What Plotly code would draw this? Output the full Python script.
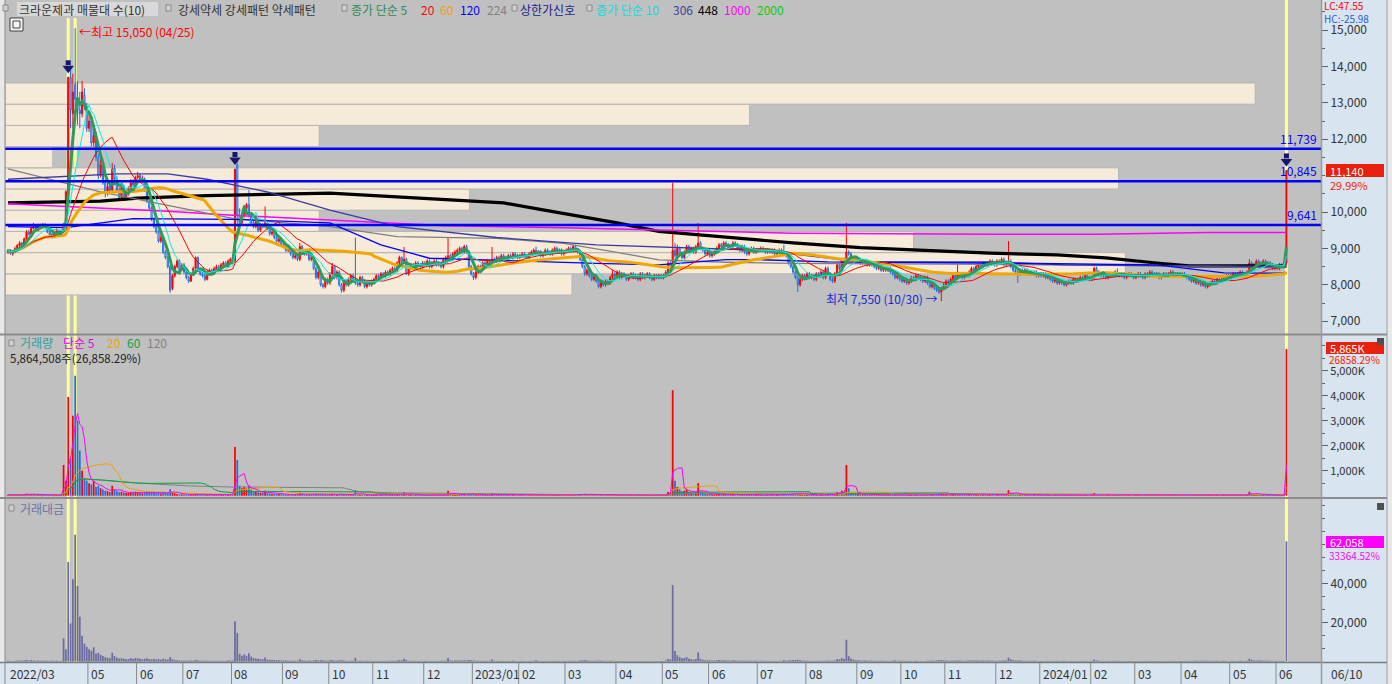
import numpy as np
import pandas as pd
import plotly.graph_objects as go

# ======================= DATA =======================
MONTH_LABELS = ["2022/03", "", "05", "06", "07", "08", "09", "10", "11", "12",
                "2023/01", "02", "03", "04", "05", "06", "07", "08", "09", "10", "11", "12",
                "2024/01", "02", "03", "04", "05", "06"]
MONTH_DAYS = [14, 21, 21, 20, 21, 22, 20, 19, 22, 21,
              20, 20, 22, 20, 20, 21, 21, 22, 19, 19, 22, 19,
              22, 19, 20, 21, 20, 5]

OPEN = [
    8900, 8950, 8850, 8900, 9000, 9080, 9150, 9070, 9250, 9450, 9400, 9550, 9600, 9500,
    9620, 9580, 9650, 9600, 9450, 9400, 9300, 9420, 9500, 9400, 9450, 9650, 10600, 13700, 12700, 13500, 13000, 12800, 12700, 13200, 12900,
    12300, 12500, 11900, 12100, 11500, 11000, 11300, 10800, 10500, 10750, 10600, 11200, 10900, 10600, 10400, 10700, 10350, 10500, 10650, 10800, 10750,
    10950, 11000, 10850, 10900, 10600, 10300, 10100, 9800, 9600, 9450, 9200, 9300, 8900, 8750, 8500, 7900, 8250, 8500, 8650, 8400,
    8550, 8350, 8200, 8100, 8300, 8450, 8750, 8400, 8300, 8250, 8150, 8350, 8400, 8300, 8450, 8500, 8400, 8550, 8600, 8500, 8650,
    8700, 8650, 11300, 9900, 9700, 9900, 10100, 10200, 9900, 9700, 9600, 9750, 9500, 9650, 9600, 9700, 9550, 9400, 9450, 9300, 9200, 9250,
    9100, 9050, 8950, 9000, 8850, 8750, 8800, 8700, 9050, 8950, 8850, 8900, 8700, 8750, 8450, 8200, 8350, 8000, 7950, 8150,
    8050, 8300, 8500, 8200, 8350, 8000, 7850, 8100, 8000, 8150, 8250, 8100, 8050, 8000, 8200, 8100, 7950, 8050, 8000,
    8100, 8150, 8250, 8200, 8300, 8250, 8350, 8300, 8400, 8450, 8400, 8600, 8750, 8650, 8700, 8300, 8450, 8550, 8500, 8600, 8550, 8500,
    8600, 8550, 8650, 8500, 8600, 8650, 8550, 8600, 8500, 8700, 8750, 8800, 8700, 8850, 8900, 8950, 9000, 8900, 9050, 8900, 8500,
    8300, 8200, 8350, 8500, 8450, 8600, 8550, 8650, 8600, 8700, 8650, 8750, 8700, 8800, 8750, 8700, 8800, 8750, 8850, 8800,
    8750, 8800, 8850, 8800, 8750, 8850, 8900, 8950, 8850, 8900, 8800, 8850, 8950, 8900, 8850, 8950, 9000, 8900, 8950, 8850,
    8900, 8950, 9000, 8950, 9050, 8950, 8900, 8700, 8500, 8300, 8400, 8250, 8150, 8250, 8100, 7950, 8050, 8000, 8100, 8050, 8200, 8300,
    8250, 8350, 8200, 8300, 8250, 8150, 8250, 8300, 8200, 8250, 8150, 8300, 8200, 8250, 8300, 8200, 8150, 8250, 8200, 8250,
    8200, 8250, 8350, 8600, 8450, 8950, 8800, 9000, 8850, 8750, 8900, 9050, 8950, 9000, 8900, 9050, 9150, 9000, 8950, 8850,
    8900, 8800, 8850, 8900, 9000, 9100, 9050, 9150, 9100, 9000, 9050, 9150, 9100, 9000, 8950, 9050, 8900, 8850, 8950, 9000, 8900,
    8950, 8950, 9000, 8950, 8900, 8950, 8900, 8950, 8850, 8900, 8950, 8900, 8850, 8800, 8600, 8500, 8350, 8200, 8000, 8150, 8250,
    8200, 8300, 8200, 8250, 8150, 8300, 8250, 8350, 8200, 8450, 8300, 8150, 8100, 8300, 8550, 8450, 8700, 8600, 8900, 8850, 8750, 8700,
    8650, 8700, 8600, 8650, 8600, 8550, 8600, 8550, 8500, 8450, 8500, 8400, 8450, 8400, 8450, 8350, 8300, 8200, 8250,
    8150, 8100, 8150, 8050, 8100, 8200, 8150, 8250, 8200, 8150, 8100, 8200, 8050, 7950, 8000, 7900, 7850, 7800, 7900,
    8000, 8100, 8050, 8150, 8250, 8200, 8300, 8250, 8200, 8300, 8250, 8350, 8450, 8400, 8500, 8550, 8500, 8600, 8550, 8600, 8650, 8600,
    8550, 8650, 8600, 8700, 8550, 8600, 8650, 8500, 8400, 8350, 8300, 8400, 8350, 8400, 8300, 8350, 8300, 8350, 8250,
    8300, 8250, 8300, 8200, 8250, 8150, 8100, 8150, 8050, 8100, 8050, 8000, 8050, 8100, 8050, 8150, 8100, 8150, 8200, 8150, 8250, 8200,
    8150, 8200, 8450, 8350, 8300, 8250, 8300, 8200, 8250, 8300, 8250, 8350, 8300, 8250, 8300, 8200, 8250, 8300, 8250,
    8200, 8250, 8300, 8250, 8200, 8300, 8250, 8350, 8300, 8250, 8300, 8200, 8250, 8300, 8250, 8300, 8350, 8300, 8250, 8300,
    8250, 8300, 8250, 8200, 8150, 8100, 8150, 8050, 8100, 8000, 8050, 7950, 8000, 8050, 8100, 8050, 8150, 8100, 8150, 8200, 8250,
    8200, 8250, 8300, 8250, 8300, 8350, 8300, 8250, 8350, 8600, 8500, 8550, 8650, 8600, 8550, 8650, 8500, 8600, 8550, 8450,
    8500, 8450, 8550, 8500, 8600,
]
HIGH = [
    8980, 8980, 8950, 9050, 9120, 9200, 9180, 9300, 9500, 9500, 9600, 9700, 9650, 9680,
    9680, 9700, 9700, 9620, 9480, 9420, 9450, 9550, 9520, 9520, 9700, 10600, 13700, 13900, 13800, 15050, 13600, 13300, 13600, 13400, 13000,
    12700, 12600, 12300, 12200, 11600, 11500, 11400, 10900, 10800, 10850, 11350, 11300, 11000, 10700, 10800, 10750, 10600, 10700, 10900, 10900, 11000,
    11100, 11050, 11000, 10950, 10650, 10350, 10150, 9850, 9650, 9500, 9400, 9350, 8950, 8800, 8550, 8300, 8550, 8700, 8700, 8600,
    8600, 8400, 8250, 8350, 8500, 8780, 8780, 8450, 8350, 8300, 8400, 8450, 8450, 8500, 8550, 8550, 8600, 8650, 8650, 8700, 8750,
    8750, 11180, 11450, 10100, 10000, 10200, 10250, 10600, 9950, 9750, 9800, 9800, 9700, 9700, 10150, 9750, 9600, 9500, 9500, 9350, 9300, 9300,
    9150, 9100, 9050, 9050, 8900, 8850, 8850, 9150, 9100, 8980, 8950, 8950, 8800, 8800, 8500, 8400, 8400, 8050, 8200, 8200,
    8350, 8600, 8550, 8400, 8400, 8050, 8150, 8150, 8200, 8300, 8300, 9300, 8100, 8250, 8250, 8150, 8100, 8100, 8150,
    8200, 8300, 8300, 8350, 8350, 8400, 8400, 8450, 8500, 8500, 8650, 8800, 8780, 9040, 8750, 8500, 8600, 8600, 8650, 8650, 8600, 8650,
    8650, 8700, 8700, 8650, 8700, 8700, 8650, 8650, 8750, 8800, 9300, 8850, 8900, 8950, 9000, 9050, 9050, 9100, 9100, 8950, 8550,
    8350, 8400, 8550, 8550, 8650, 8650, 8700, 8700, 9040, 8750, 8800, 8800, 8850, 8850, 8800, 8850, 8850, 8900, 8900, 8850,
    8850, 8900, 8900, 8850, 8900, 8950, 9000, 9050, 8950, 8950, 8900, 9000, 9000, 8950, 9000, 9050, 9050, 9000, 9000, 8950,
    9000, 9050, 9050, 9100, 9100, 9000, 8950, 8750, 8550, 8450, 8450, 8300, 8300, 8300, 8150, 8100, 8100, 8150, 8150, 8250, 8400, 8350,
    8400, 8400, 8350, 8350, 8300, 8300, 8350, 8350, 8300, 8300, 8350, 8350, 8300, 8350, 8350, 8250, 8300, 8300, 8300, 8300,
    8300, 8400, 8650, 8650, 10800, 9150, 9100, 9050, 8900, 8950, 9100, 9100, 9050, 9050, 9100, 9700, 9200, 9050, 9000, 8950,
    8950, 8900, 8950, 9050, 9150, 9150, 9200, 9200, 9150, 9100, 9200, 9200, 9150, 9050, 9100, 9100, 8950, 9000, 9050, 9050, 9000,
    9000, 9050, 9050, 9000, 9000, 9000, 9000, 9000, 8950, 9000, 9000, 9100, 8900, 8850, 8650, 8550, 8400, 8250, 8200, 8300, 8300,
    8350, 8350, 8300, 8300, 8350, 8350, 8400, 8400, 8500, 8500, 8350, 8200, 8350, 8600, 8600, 8750, 8750, 9700, 8950, 8900, 8800, 8750,
    8750, 8750, 8700, 8700, 8650, 8650, 8650, 8600, 8550, 8550, 8550, 8500, 8500, 8500, 8500, 8400, 8350, 8300, 8300,
    8200, 8200, 8200, 8150, 8250, 8250, 8300, 8300, 8250, 8200, 8250, 8250, 8100, 8050, 8050, 7950, 7900, 7950, 8050,
    8150, 8150, 8200, 8300, 8300, 8560, 8350, 8300, 8350, 8350, 8400, 8500, 8500, 8550, 8600, 8600, 8650, 8650, 8650, 8700, 8700, 8650,
    8700, 8700, 8750, 8750, 8650, 9200, 8700, 8550, 8450, 8400, 8450, 8450, 8450, 8450, 8400, 8400, 8400, 8400, 8350,
    8350, 8350, 8350, 8300, 8300, 8200, 8200, 8200, 8150, 8150, 8100, 8100, 8150, 8150, 8200, 8200, 8200, 8250, 8250, 8300, 8300, 8250,
    8250, 8500, 8500, 8400, 8350, 8350, 8350, 8300, 8350, 8350, 8400, 8450, 8350, 8350, 8350, 8300, 8350, 8350, 8300,
    8300, 8350, 8350, 8300, 8350, 8350, 8400, 8400, 8350, 8350, 8350, 8300, 8350, 8350, 8350, 8400, 8400, 8350, 8350, 8350,
    8350, 8350, 8300, 8250, 8200, 8200, 8200, 8150, 8150, 8100, 8100, 8050, 8100, 8150, 8150, 8200, 8200, 8200, 8250, 8300, 8300,
    8300, 8350, 8350, 8350, 8400, 8400, 8350, 8400, 8700, 8650, 8600, 8700, 8700, 8650, 8700, 8700, 8650, 8650, 8600, 8550,
    8550, 8600, 8600, 8650, 11140,
]
LOW = [
    8850, 8820, 8800, 8870, 8950, 9040, 9030, 9050, 9220, 9350, 9380, 9520, 9480, 9470,
    9550, 9550, 9580, 9420, 9350, 9270, 9280, 9400, 9380, 9380, 9420, 9600, 10550, 12300, 12300, 12900, 12400, 12300, 12600, 12800, 12200,
    12200, 11800, 11800, 11400, 10900, 10950, 10750, 10400, 10450, 10550, 10550, 10850, 10550, 10350, 10350, 10300, 10300, 10450, 10600, 10700, 10700,
    10900, 10800, 10800, 10550, 10250, 10050, 9750, 9550, 9400, 9150, 9150, 8850, 8700, 8450, 7780, 7850, 8200, 8450, 8350, 8380,
    8300, 8150, 8050, 8080, 8250, 8400, 8350, 8250, 8200, 8100, 8120, 8320, 8280, 8280, 8420, 8380, 8380, 8520, 8480, 8480, 8620,
    8580, 8600, 9600, 9600, 9650, 9850, 10050, 9850, 9650, 9550, 9550, 9450, 9450, 9550, 9550, 9500, 9350, 9350, 9250, 9150, 9150, 9050,
    9000, 8900, 8900, 8800, 8700, 8700, 8650, 8650, 8900, 8800, 8800, 8650, 8650, 8400, 8150, 8150, 7950, 7900, 7900, 8000,
    8000, 8250, 8150, 8150, 7950, 7780, 7800, 7950, 7950, 8100, 8050, 8000, 7950, 7950, 8050, 7900, 7900, 7950, 7950,
    8050, 8100, 8150, 8150, 8200, 8200, 8250, 8250, 8350, 8350, 8350, 8550, 8600, 8600, 8270, 8250, 8400, 8450, 8450, 8500, 8450, 8450,
    8500, 8500, 8450, 8450, 8550, 8500, 8500, 8450, 8450, 8650, 8700, 8650, 8650, 8800, 8850, 8900, 8850, 8850, 8850, 8450, 8250,
    8130, 8150, 8300, 8400, 8400, 8500, 8500, 8550, 8550, 8600, 8600, 8650, 8650, 8700, 8650, 8650, 8700, 8700, 8750, 8700,
    8700, 8750, 8750, 8700, 8700, 8800, 8850, 8800, 8800, 8750, 8750, 8800, 8850, 8800, 8800, 8900, 8850, 8850, 8800, 8800,
    8850, 8900, 8900, 8900, 8900, 8850, 8650, 8450, 8250, 8250, 8200, 8100, 8100, 8050, 7900, 7900, 7950, 7950, 8000, 8000, 8150, 8200,
    8200, 8150, 8150, 8200, 8100, 8100, 8200, 8150, 8150, 8100, 8100, 8150, 8150, 8200, 8150, 8100, 8100, 8150, 8150, 8150,
    8150, 8200, 8300, 8400, 8400, 8750, 8750, 8800, 8700, 8700, 8850, 8900, 8900, 8850, 8850, 9000, 8950, 8900, 8800, 8800,
    8750, 8750, 8800, 8850, 8950, 9000, 9000, 9050, 8950, 8950, 9000, 9050, 8950, 8900, 8900, 8850, 8800, 8800, 8900, 8850, 8850,
    8900, 8900, 8900, 8850, 8850, 8850, 8850, 8800, 8800, 8850, 8850, 8800, 8750, 8550, 8450, 8300, 8150, 7800, 7950, 8100, 8150,
    8150, 8150, 8150, 8100, 8100, 8200, 8200, 8150, 8150, 8250, 8100, 8050, 8050, 8250, 8400, 8400, 8550, 8550, 8800, 8700, 8650, 8600,
    8600, 8550, 8550, 8550, 8500, 8500, 8500, 8450, 8400, 8400, 8350, 8350, 8350, 8350, 8300, 8250, 8150, 8150, 8100,
    8050, 8050, 8000, 8000, 8050, 8100, 8100, 8150, 8100, 8050, 8050, 8000, 7900, 7900, 7850, 7800, 7750, 7550, 7850,
    7950, 8000, 8000, 8100, 8150, 8150, 8200, 8150, 8150, 8200, 8200, 8300, 8350, 8350, 8450, 8450, 8450, 8500, 8500, 8550, 8550, 8500,
    8500, 8550, 8550, 8500, 8500, 8550, 8450, 8350, 8300, 8050, 8250, 8300, 8300, 8250, 8250, 8250, 8250, 8200, 8200,
    8200, 8200, 8150, 8150, 8100, 8050, 8050, 8000, 8000, 8000, 7950, 7950, 8000, 8000, 8000, 8050, 8050, 8100, 8100, 8100, 8150, 8100,
    8100, 8150, 8300, 8250, 8200, 8200, 8150, 8150, 8200, 8200, 8200, 8250, 8200, 8200, 8150, 8150, 8200, 8200, 8150,
    8150, 8200, 8200, 8150, 8150, 8200, 8200, 8250, 8200, 8200, 8150, 8150, 8200, 8200, 8200, 8250, 8250, 8200, 8200, 8200,
    8200, 8200, 8150, 8100, 8050, 8050, 8000, 8000, 7950, 7950, 7900, 7900, 7950, 8000, 8000, 8000, 8050, 8050, 8100, 8150, 8150,
    8150, 8200, 8200, 8200, 8250, 8250, 8200, 8200, 8300, 8450, 8450, 8500, 8550, 8500, 8500, 8450, 8450, 8500, 8400, 8400,
    8400, 8400, 8450, 8450, 8550,
]
CLOSE = [
    8950, 8880, 8900, 8990, 9080, 9150, 9070, 9260, 9450, 9380, 9550, 9600, 9520, 9620,
    9580, 9650, 9600, 9450, 9380, 9300, 9420, 9500, 9400, 9480, 9650, 10560, 13700, 12800, 13300, 13100, 12800, 12700, 13300, 12900, 12300,
    12500, 11900, 12100, 11500, 11000, 11300, 10800, 10500, 10700, 10600, 11200, 10900, 10600, 10400, 10700, 10350, 10500, 10650, 10800, 10750, 10950,
    11000, 10850, 10900, 10600, 10300, 10100, 9800, 9600, 9450, 9200, 9300, 8900, 8750, 8500, 7850, 8250, 8500, 8650, 8400, 8550,
    8350, 8200, 8100, 8300, 8450, 8750, 8400, 8300, 8250, 8150, 8350, 8400, 8300, 8450, 8500, 8400, 8550, 8600, 8500, 8650, 8700,
    8600, 11180, 9900, 9700, 9900, 10100, 10200, 9900, 9700, 9600, 9750, 9500, 9650, 9600, 9700, 9550, 9400, 9450, 9300, 9200, 9250, 9100,
    9050, 8950, 9000, 8850, 8750, 8800, 8700, 9050, 8950, 8850, 8900, 8700, 8750, 8450, 8200, 8350, 8000, 7950, 8150, 8050,
    8300, 8500, 8200, 8350, 8000, 7850, 8100, 8000, 8150, 8250, 8100, 8050, 8000, 8200, 8100, 7950, 8050, 8000, 8100,
    8150, 8250, 8200, 8300, 8250, 8350, 8300, 8400, 8450, 8400, 8600, 8750, 8650, 8700, 8300, 8450, 8550, 8500, 8600, 8550, 8500, 8600,
    8550, 8650, 8500, 8600, 8650, 8550, 8600, 8500, 8700, 8750, 8800, 8700, 8850, 8900, 8950, 9000, 8900, 9050, 8900, 8500, 8300,
    8200, 8350, 8500, 8450, 8600, 8550, 8650, 8600, 8700, 8650, 8750, 8700, 8800, 8750, 8700, 8800, 8750, 8850, 8800, 8750,
    8800, 8850, 8800, 8750, 8850, 8900, 8950, 8850, 8900, 8800, 8850, 8950, 8900, 8850, 8950, 9000, 8900, 8950, 8850, 8900,
    8950, 9000, 8950, 9050, 8950, 8900, 8700, 8500, 8300, 8400, 8250, 8150, 8250, 8100, 7950, 8050, 8000, 8100, 8050, 8200, 8300, 8250,
    8350, 8200, 8300, 8250, 8150, 8250, 8300, 8200, 8250, 8150, 8300, 8200, 8250, 8300, 8200, 8150, 8250, 8200, 8250, 8200,
    8250, 8350, 8600, 8450, 8950, 8800, 9000, 8850, 8750, 8900, 9050, 8950, 9000, 8900, 9050, 9150, 9000, 8950, 8850, 8900,
    8800, 8850, 8900, 9000, 9100, 9050, 9150, 9100, 9000, 9050, 9150, 9100, 9000, 8950, 9050, 8900, 8850, 8950, 9000, 8900, 8950,
    8950, 9000, 8950, 8900, 8950, 8900, 8950, 8850, 8900, 8950, 8900, 8850, 8800, 8600, 8500, 8350, 8200, 8000, 8150, 8250, 8200,
    8300, 8200, 8250, 8150, 8300, 8250, 8350, 8200, 8450, 8300, 8150, 8100, 8300, 8550, 8450, 8700, 8600, 8900, 8850, 8750, 8700, 8650,
    8700, 8600, 8650, 8600, 8550, 8600, 8550, 8500, 8450, 8500, 8400, 8450, 8400, 8450, 8350, 8300, 8200, 8250, 8150,
    8100, 8150, 8050, 8100, 8200, 8150, 8250, 8200, 8150, 8100, 8200, 8050, 7950, 8000, 7900, 7850, 7800, 7900, 8000,
    8100, 8050, 8150, 8250, 8200, 8300, 8250, 8200, 8300, 8250, 8350, 8450, 8400, 8500, 8550, 8500, 8600, 8550, 8600, 8650, 8600, 8550,
    8650, 8600, 8700, 8550, 8600, 8650, 8500, 8400, 8350, 8300, 8400, 8350, 8400, 8300, 8350, 8300, 8350, 8250, 8300,
    8250, 8300, 8200, 8250, 8150, 8100, 8150, 8050, 8100, 8050, 8000, 8050, 8100, 8050, 8150, 8100, 8150, 8200, 8150, 8250, 8200, 8150,
    8200, 8450, 8350, 8300, 8250, 8300, 8200, 8250, 8300, 8250, 8350, 8300, 8250, 8300, 8200, 8250, 8300, 8250, 8200,
    8250, 8300, 8250, 8200, 8300, 8250, 8350, 8300, 8250, 8300, 8200, 8250, 8300, 8250, 8300, 8350, 8300, 8250, 8300, 8250,
    8300, 8250, 8200, 8150, 8100, 8150, 8050, 8100, 8000, 8050, 7950, 8000, 8050, 8100, 8050, 8150, 8100, 8150, 8200, 8250, 8200,
    8250, 8300, 8250, 8300, 8350, 8300, 8250, 8350, 8600, 8500, 8550, 8650, 8600, 8550, 8650, 8500, 8600, 8550, 8450, 8500,
    8450, 8550, 8500, 8570, 11140,
]
VOLUME_K = [  # thousand shares
    35, 28, 22, 30, 45, 52, 30, 60, 85, 40, 70, 55, 30, 42,
    38, 45, 30, 40, 35, 30, 28, 45, 25, 30, 1230, 600, 3950, 1500, 3200, 4800, 3000, 1800, 1000, 700, 600,
    500, 450, 600, 350, 400, 300, 250, 200, 180, 150, 400, 250, 180, 140, 160, 130, 110, 120, 150, 130, 160,
    140, 120, 100, 130, 150, 120, 110, 140, 100, 130, 90, 150, 120, 110, 260, 140, 90, 70, 60, 55,
    50, 45, 60, 55, 48, 90, 70, 45, 40, 50, 42, 38, 35, 44, 40, 36, 45, 40, 35, 48, 60,
    55, 1950, 1430, 400, 300, 350, 280, 420, 250, 180, 150, 140, 120, 110, 200, 100, 90, 80, 85, 70, 65, 60,
    55, 50, 45, 48, 40, 38, 42, 120, 70, 45, 40, 48, 38, 70, 90, 60, 85, 70, 55, 50,
    65, 80, 60, 45, 70, 90, 55, 40, 38, 45, 35, 220, 40, 45, 35, 40, 38, 35, 30,
    30, 35, 32, 28, 30, 35, 30, 40, 45, 35, 60, 80, 55, 150, 90, 40, 45, 35, 38, 30, 28, 32,
    30, 35, 28, 30, 32, 28, 30, 35, 40, 45, 200, 60, 45, 50, 55, 60, 45, 65, 50, 80, 70,
    60, 45, 40, 35, 38, 30, 32, 35, 110, 40, 35, 30, 32, 28, 25, 30, 28, 32, 30, 25,
    28, 30, 25, 22, 28, 30, 35, 60, 30, 28, 25, 30, 28, 25, 30, 35, 28, 30, 25, 28,
    30, 35, 32, 40, 35, 30, 55, 70, 80, 50, 45, 40, 35, 42, 60, 45, 38, 35, 30, 40, 45, 35,
    32, 30, 28, 25, 30, 28, 25, 22, 28, 25, 30, 25, 22, 25, 28, 22, 25, 20, 22, 25,
    25, 60, 150, 120, 4220, 600, 350, 250, 180, 200, 250, 150, 120, 100, 130, 500, 150, 90, 70, 65,
    60, 55, 50, 70, 80, 60, 75, 55, 50, 48, 65, 55, 45, 40, 50, 42, 38, 40, 45, 38, 35,
    35, 38, 32, 30, 35, 30, 32, 28, 30, 35, 30, 80, 40, 60, 70, 80, 90, 110, 70, 50, 45,
    40, 38, 35, 32, 38, 35, 40, 35, 55, 45, 50, 48, 60, 150, 120, 200, 150, 1230, 300, 150, 100, 80,
    70, 60, 55, 50, 45, 48, 40, 38, 42, 36, 40, 35, 38, 32, 40, 45, 55, 40, 45,
    40, 35, 38, 32, 35, 30, 38, 32, 30, 28, 32, 40, 50, 45, 55, 60, 70, 90, 65,
    55, 45, 50, 45, 55, 60, 50, 40, 45, 50, 60, 70, 55, 60, 65, 50, 55, 45, 50, 48, 40, 38,
    45, 40, 55, 50, 60, 220, 120, 80, 60, 70, 55, 45, 40, 38, 35, 40, 35, 32, 30,
    32, 30, 35, 28, 32, 35, 30, 38, 32, 28, 35, 30, 28, 32, 30, 28, 25, 30, 28, 32, 30, 28,
    30, 110, 60, 40, 35, 32, 30, 28, 30, 32, 28, 45, 30, 28, 25, 30, 28, 25, 28,
    25, 28, 30, 25, 28, 30, 35, 28, 25, 30, 28, 25, 30, 28, 25, 30, 28, 32, 25, 28,
    30, 28, 32, 35, 30, 38, 40, 35, 45, 40, 50, 42, 38, 35, 40, 35, 30, 35, 38, 32, 30,
    30, 28, 32, 30, 35, 32, 28, 40, 160, 90, 60, 55, 70, 50, 45, 55, 40, 38, 35, 30,
    32, 28, 30, 22, 5865,
]

MA120_X = [0, 25, 54, 97, 139, 161, 182, 225, 254, 281, 310, 325, 354, 424, 496, 525, 552]
MA120_Y = [9600, 9570, 9820, 9800, 9700, 9100, 8730, 8640, 8590, 8550, 8690, 8690, 8630, 8600, 8550, 8330, 8320]
MA224_X = [0, 40, 69, 97, 139, 168, 211, 240, 261, 281, 310, 339, 424, 456, 496, 525, 552]
MA224_Y = [11185, 10550, 10185, 9823, 9596, 9323, 9278, 9141, 8914, 8687, 8620, 8590, 8560, 8550, 8520, 8505, 8480]
MA306_X = [0, 47, 69, 86, 112, 139, 168, 211, 254, 281, 300, 325, 368, 424, 456, 552]
MA306_Y = [10900, 11050, 11050, 10900, 10550, 10050, 9600, 9300, 9100, 9040, 9000, 8950, 8630, 8630, 8550, 8500]
MA448_X = [0, 40, 56, 86, 139, 196, 214, 231, 248, 263, 281, 310, 339, 368, 389, 424, 453, 474, 496, 510, 552]
MA448_Y = [10250, 10300, 10380, 10450, 10520, 10330, 10250, 10060, 9880, 9700, 9470, 9300, 9150, 9020, 8960, 8870, 8820, 8740, 8600, 8520, 8520]
MA1000_X = [0, 40, 69, 97, 139, 189, 240, 281, 339, 424, 470, 518, 552]
MA1000_Y = [10230, 10120, 10020, 9910, 9770, 9620, 9570, 9510, 9415, 9390, 9390, 9440, 9440]

# volume profile (매물대, 10 bins, bottom -> top, share of volume %)
PROFILE_RANGE = [7720, 13544]
PROFILE_SHARE = [8.3, 16.4, 13.3, 4.6, 6.8, 16.3, 0.7, 4.6, 10.9, 18.3]

SUPPORT_LINES = [11739, 10845, 9641]
SIGNAL_DAYS = [26, 98, 552]       # 강세 arrows
LIMIT_UP_DAYS = [26, 29, 552]     # 상한가신호 markers

PRICE_TICKS = [7000, 8000, 9000, 10000, 12000, 13000, 14000, 15000]
VOL_TICKS_K = [1000, 2000, 3000, 4000, 5000]
VALUE_TICKS = [20000, 40000]

LAST_VOLUME_SHARES = 5864508
VOLUME_RATIO = 26858.29
LAST_VALUE = 62058
VALUE_RATIO = 33364.52
LC_TEXT, HC_TEXT = "LC:47.55", "HC:-25.98"
HIGH_LABEL = "←최고 15,050 (04/25)"
LOW_LABEL = "최저 7,550 (10/30) →"
TODAY_LABEL = "06/10"

# ======================= LAYOUT HELPERS =======================
W, H = 1392, 684
FONT = "Noto Sans CJK KR"
RED, BLUE = "#ff0000", "#1e6ee6"
YELLOW = "#ffff99"


def fx(px):
    return px / W


def fy(py):
    return 1 - py / H


X0, PXD = 8.0, 2.316
X_RANGE = [(5 - X0) / PXD, (1321 - X0) / PXD]
P_RANGE = [6649, 15824]
V_RANGE = [-52, 6428]
T_RANGE = [-305, 83257]

o = np.array(OPEN, float)
h = np.array(HIGH, float)
l = np.array(LOW, float)
c = np.array(CLOSE, float)
v = np.array(VOLUME_K, float)
n = len(c)
assert len(o) == len(h) == len(l) == len(v) == n == sum(MONTH_DAYS)
idx = np.arange(n)
cs = pd.Series(c)
vs = pd.Series(v)
value = v * (h + l + 2 * c) / 4000.0   # 거래대금 (백만원)
up = c >= o

fig = go.Figure()

# ---- price panel ----
pb = np.array(PROFILE_RANGE, float)
bin_h = (pb[1] - pb[0]) / len(PROFILE_SHARE)
centers = pb[0] + bin_h * (np.arange(len(PROFILE_SHARE)) + 0.5)
share = np.array(PROFILE_SHARE)
lengths = share / share.max() * 0.95 * (X_RANGE[1] - X_RANGE[0])
fig.add_trace(go.Bar(orientation="h", x=lengths, y=centers, base=X_RANGE[0], width=bin_h,
                     marker=dict(color="#f6ead9", line=dict(color="#b5b5b5", width=1)),
                     xaxis="x", yaxis="y", hoverinfo="skip", showlegend=False))

for X, Y, col, wd in [(MA448_X, MA448_Y, "#000000", 3.2), (MA1000_X, MA1000_Y, "#ff00ff", 1.5),
                      (MA224_X, MA224_Y, "#808080", 1.3), (MA306_X, MA306_Y, "#3a3aa6", 1.3),
                      (MA120_X, MA120_Y, "#0000ff", 1.3)]:
    fig.add_trace(go.Scatter(x=X, y=Y, mode="lines", line=dict(color=col, width=wd),
                             xaxis="x", yaxis="y", hoverinfo="skip", showlegend=False))

for win, col, wd in [(60, "#f0a800", 3), (20, "#ff0000", 1), (5, "#2e9a5e", 3)]:
    fig.add_trace(go.Scatter(x=idx, y=cs.rolling(win, min_periods=1).mean(), mode="lines",
                             line=dict(color=col, width=wd), xaxis="x", yaxis="y",
                             hoverinfo="skip", showlegend=False))

fig.add_trace(go.Candlestick(x=idx, open=o, high=h, low=l, close=c,
                             increasing=dict(line=dict(color=RED, width=1), fillcolor=RED),
                             decreasing=dict(line=dict(color=BLUE, width=1), fillcolor="rgba(0,0,0,0)"),
                             whiskerwidth=0, xaxis="x", yaxis="y", hoverinfo="skip", showlegend=False))

fig.add_trace(go.Scatter(x=idx, y=cs.rolling(10, min_periods=1).mean(), mode="lines",
                         line=dict(color="#00f0f0", width=1), xaxis="x", yaxis="y",
                         hoverinfo="skip", showlegend=False))

sd = np.array(SIGNAL_DAYS)
fig.add_trace(go.Scatter(x=sd, y=h[sd] + 250, mode="markers",
                         marker=dict(symbol="triangle-down", size=10, color="#161670"),
                         xaxis="x", yaxis="y", hoverinfo="skip", showlegend=False))
fig.add_trace(go.Scatter(x=sd, y=h[sd] + 400, mode="markers",
                         marker=dict(symbol="square", size=5, color="#161670"),
                         xaxis="x", yaxis="y", hoverinfo="skip", showlegend=False))

# ---- volume panel ----
fig.add_trace(go.Bar(x=idx, y=v, width=0.75, marker=dict(color=np.where(up, RED, BLUE), line=dict(width=0)),
                     xaxis="x2", yaxis="y2", hoverinfo="skip", showlegend=False))
for win, col in [(120, "#808080"), (60, "#10a040"), (20, "#f0a000"), (5, "#ff00ff")]:
    fig.add_trace(go.Scatter(x=idx, y=vs.rolling(win, min_periods=1).mean(), mode="lines",
                             line=dict(color=col, width=1), xaxis="x2", yaxis="y2",
                             hoverinfo="skip", showlegend=False))

# ---- trading value panel ----
fig.add_trace(go.Bar(x=idx, y=value, width=0.75, marker=dict(color="#6b6ba2", line=dict(width=0)),
                     xaxis="x3", yaxis="y3", hoverinfo="skip", showlegend=False))

# ======================= AXES =======================
tickfont = dict(family=FONT, size=12, color="#333333")
xcommon = dict(domain=[fx(5), fx(1321)], range=X_RANGE, showticklabels=False, showgrid=False,
               zeroline=False, showline=False, ticks="", fixedrange=True)
ycommon = dict(side="right", showgrid=False, zeroline=False, showline=False, ticks="outside",
               ticklen=6, tickcolor="#606060", tickfont=tickfont, fixedrange=True, tickmode="array")

layout = dict(
    width=W, height=H, autosize=False, margin=dict(l=0, r=0, t=0, b=0),
    paper_bgcolor="#d8e4f0", plot_bgcolor="#c0c0c0", showlegend=False, hovermode=False,
    bargap=0.2,
    xaxis=dict(xcommon, anchor="y", rangeslider=dict(visible=False)),
    xaxis2=dict(xcommon, anchor="y2"),
    xaxis3=dict(xcommon, anchor="y3"),
    yaxis=dict(ycommon, domain=[fy(334), fy(0)], range=P_RANGE, anchor="x",
               tickvals=PRICE_TICKS, ticktext=[f"{t:,}" for t in PRICE_TICKS],
               minor=dict(tickmode="array", tickvals=list(range(6500, 16000, 500)),
                          ticks="outside", ticklen=3, tickcolor="#606060")),
    yaxis2=dict(ycommon, domain=[fy(497), fy(335)], range=V_RANGE, anchor="x2",
                tickvals=VOL_TICKS_K, ticktext=[f"{t:,}K" for t in VOL_TICKS_K],
                tickfont=dict(family=FONT, size=11, color="#333333"),
                minor=dict(tickmode="array", tickvals=list(range(500, 6500, 500)),
                           ticks="outside", ticklen=3, tickcolor="#606060")),
    yaxis3=dict(ycommon, domain=[fy(662), fy(499)], range=T_RANGE, anchor="x3",
                tickvals=VALUE_TICKS, ticktext=[f"{t:,}" for t in VALUE_TICKS],
                minor=dict(tickmode="array", tickvals=[k * 20000 / 3 for k in range(1, 13)],
                           ticks="outside", ticklen=3, tickcolor="#606060")),
)
fig.update_layout(**layout)

# ======================= SHAPES =======================
shapes = []


def prect(x0, y0, x1, y1, fill, line=None, layer="above"):
    return dict(type="rect", xref="paper", yref="paper", x0=fx(x0), x1=fx(x1), y0=fy(y1), y1=fy(y0),
                fillcolor=fill, line=dict(color=line if line else fill, width=1 if line else 0), layer=layer)


def pline(x0, y0, x1, y1, color, width=1):
    return dict(type="line", xref="paper", yref="paper", x0=fx(x0), x1=fx(x1), y0=fy(y0), y1=fy(y1),
                line=dict(color=color, width=width), layer="above")


# yellow 상한가 markers, behind the data of each panel
yl_top_p = 15000 - (18 - 30) * 27.47
for d in LIMIT_UP_DAYS:
    top = P_RANGE[1] if d == n - 1 else yl_top_p
    for xr, yr, y0, y1 in [("x", "y", P_RANGE[0], top), ("x2", "y2", V_RANGE[0], V_RANGE[1]),
                           ("x3", "y3", T_RANGE[0], T_RANGE[1])]:
        shapes.append(dict(type="line", xref=xr, yref=yr, x0=d, x1=d, y0=y0, y1=y1,
                           line=dict(color=YELLOW, width=3), layer="below"))

shapes.append(prect(0, 0, 5, 662, "#e8e8e8", layer="below"))
shapes.append(prect(1387, 0, 1392, 684, "#e8e8e8", layer="below"))
for yv in SUPPORT_LINES:
    shapes.append(dict(type="line", xref="paper", yref="y", x0=fx(5), x1=fx(1321), y0=yv, y1=yv,
                       line=dict(color="#0000ff", width=2.5), layer="above"))
shapes.append(pline(0, 334.5, 1387, 334.5, "#8c8c8c", 2))
shapes.append(pline(0, 498, 1387, 498, "#8c8c8c", 2))
shapes.append(pline(0, 662.5, 1387, 662.5, "#7a7a7a", 1.5))
shapes.append(pline(1321.5, 0, 1321.5, 684, "#9a9a9a", 1.5))
shapes.append(pline(1387, 0, 1387, 684, "#9a9a9a", 1))
shapes.append(pline(5, 0, 5, 684, "#8a8a8a", 1))

# month dividers in the date strip
month_start = np.concatenate([[0], np.cumsum(MONTH_DAYS)[:-1]])
for s, lab in zip(month_start, MONTH_LABELS):
    if lab and s > 0:
        shapes.append(dict(type="line", xref="x", yref="paper", x0=s - 0.5, x1=s - 0.5, y0=0, y1=fy(663),
                           line=dict(color="#8a8a8a", width=1), layer="above"))

# legend boxes / value tags
shapes.append(prect(17, 2, 158, 16, "#d8d8d8"))
for sx in [3, 166, 342, 512, 587]:
    shapes.append(prect(sx, 5, sx + 5, 11, "#d0d0d0", "#8a8a8a"))
shapes.append(prect(9, 340, 14, 346, "#d0d0d0", "#8a8a8a"))
shapes.append(prect(9, 505, 14, 511, "#d0d0d0", "#8a8a8a"))
shapes.append(prect(10, 18, 23, 31, "#f4f4f4", "#404040"))
shapes.append(prect(13, 21, 20, 28, "#f4f4f4", "#404040"))
shapes.append(prect(1326, 164, 1384, 177, "#e8200c"))
shapes.append(prect(1326, 342, 1384, 354, "#e8200c"))
shapes.append(prect(1326, 536, 1384, 548, "#ff00ff"))
shapes.append(prect(1377, 338, 1384, 345, "#505050"))
shapes.append(prect(1377, 503, 1384, 510, "#505050"))

# ======================= ANNOTATIONS =======================
ann = []


def ptext(x, y, text, color, size=12, anchor="left"):
    return dict(xref="paper", yref="paper", x=fx(x), y=fy(y), text=text, showarrow=False,
                xanchor=anchor, yanchor="middle", borderpad=0,
                font=dict(family=FONT, size=size, color=color))


for x, t, col in [(18, "크라운제과 매물대 수(10)", "#333333"), (177, "강세약세 강세패턴 약세패턴", "#333333"),
                  (350, "종가 단순 5", "#2e8b57"), (420, "20", "#ff0000"), (439, "60", "#f0a000"),
                  (459, "120", "#0000ff"), (486, "224", "#808080"), (519, "상한가신호", "#1a1a8c"),
                  (595, "종가 단순 10", "#00e0e0"), (672, "306", "#3c3ca0"), (697, "448", "#000000"),
                  (723, "1000", "#ff00ff"), (756, "2000", "#00d000")]:
    ann.append(ptext(x, 9, t, col))

for x, t, col in [(19, "거래량", "#2f9f9f"), (62, "단순 5", "#e000e0"), (106, "20", "#f0a000"),
                  (126, "60", "#10a040"), (146, "120", "#808080")]:
    ann.append(ptext(x, 342, t, col))
ann.append(ptext(9, 357.5, f"{LAST_VOLUME_SHARES:,}주({VOLUME_RATIO:,.2f}%)", "#222222", size=11.5))
ann.append(ptext(19, 508, "거래대금", "#7070a8"))

lchc = (f"<span style='color:#ff0000'>{LC_TEXT}</span><br>"
        f"<span style='color:#1e5fd6'>{HC_TEXT}</span>")
ann.append(dict(xref="paper", yref="paper", x=fx(1323), y=fy(12.5), text=lchc, showarrow=False,
                xanchor="left", yanchor="middle", align="left", borderpad=0,
                font=dict(family=FONT, size=10, color="#ff0000")))
chg = (c[-1] / c[-2] - 1) * 100
ann.append(ptext(1329, 170.5, f"{int(c[-1]):,}", "#ffffff", size=11))
ann.append(ptext(1329, 185, f"{chg:.2f}%", "#ff2000", size=11))
ann.append(ptext(1329, 348, f"{int(v[-1]):,}K", "#ffffff", size=11))
ann.append(ptext(1328, 359, f"{VOLUME_RATIO:.2f}%", "#ff2000", size=10))
ann.append(ptext(1329, 542, f"{LAST_VALUE:,}", "#ffffff", size=11))
ann.append(ptext(1328, 555, f"{VALUE_RATIO:.2f}%", "#ff00ff", size=10))

for yv in SUPPORT_LINES:
    ann.append(dict(xref="paper", yref="y", x=fx(1319), y=yv, text=f"{yv:,}", showarrow=False,
                    xanchor="right", yanchor="bottom", yshift=0,
                    font=dict(family=FONT, size=12, color="#0000ff")))

imax = int(np.argmax(h))
imin = int(np.argmin(l))
ann.append(dict(xref="x", yref="y", x=imax + 0.6, y=h[imax], text=HIGH_LABEL, showarrow=False,
                xanchor="left", yanchor="middle", yshift=-3, font=dict(family=FONT, size=12, color="#ff0000")))
ann.append(dict(xref="x", yref="y", x=imin - 0.4, y=l[imin], text=LOW_LABEL, showarrow=False,
                xanchor="right", yanchor="middle", yshift=3, font=dict(family=FONT, size=12, color="#1428d2")))

for s, lab in zip(month_start, MONTH_LABELS):
    if lab:
        ann.append(dict(xref="x", yref="paper", x=s - 0.5, y=fy(673), text=lab, showarrow=False,
                        xanchor="left", yanchor="middle", xshift=1, font=dict(family=FONT, size=12, color="#333333")))
ann.append(ptext(1330, 673, TODAY_LABEL, "#333333"))

fig.update_layout(shapes=shapes, annotations=ann)
fig.write_html("out.html", config={"displayModeBar": False, "staticPlot": True},
               post_script="document.body.style.margin='0';document.body.style.overflow='hidden';")
